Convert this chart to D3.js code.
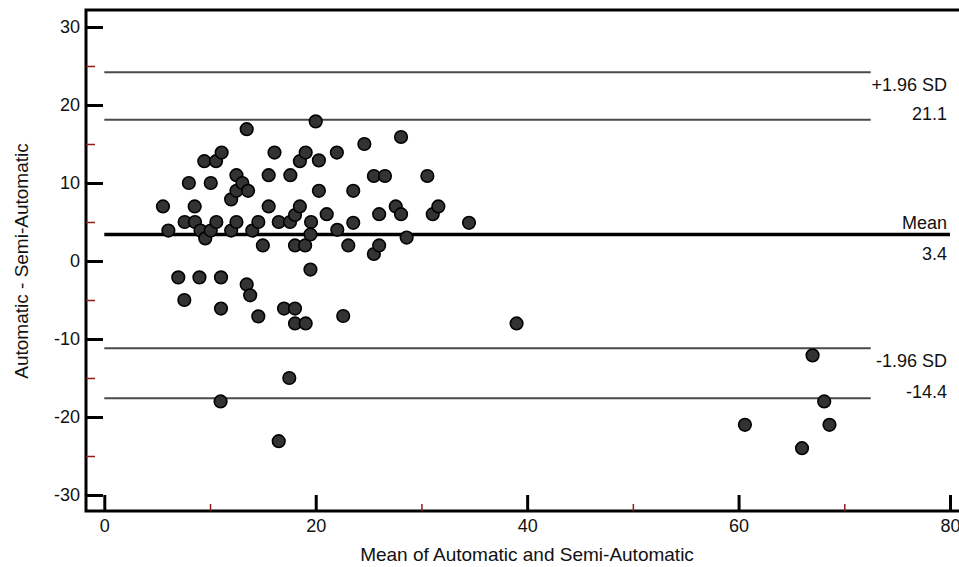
<!DOCTYPE html>
<html>
<head>
<meta charset="utf-8">
<script src="https://cdn.jsdelivr.net/npm/d3@7"></script>
<style>
  body { margin: 0; background: #fff; }
  text { font-family: "Liberation Sans", Arial, sans-serif; fill: #111; }
</style>
</head>
<body>
<div id="chart"></div>
<script>
// mean of the two methods (x) and their difference (y)
var meanVals = [5.55, 6.06, 7.0, 7.57, 7.6, 8.0, 8.55, 8.58, 9.0, 9.1,
  9.55, 9.46, 10.07, 10.07, 10.57, 10.6, 11.04, 11.04, 11.0, 11.1,
  12.0, 12.0, 12.5, 12.5, 12.5, 13.06, 13.47, 13.6, 13.47, 13.8,
  14.0, 14.57, 14.57, 15.0, 15.55, 15.55, 16.1, 16.5, 16.5, 17.0,
  17.5, 17.6, 17.57, 18.04, 18.04, 18.04, 18.04, 18.5, 18.5, 19.05,
  19.0, 19.05, 19.56, 19.5, 19.5, 20.0, 20.3, 20.3, 21.04, 22.0,
  22.04, 22.6, 23.08, 23.55, 23.55, 24.6, 25.5, 25.5, 26.0, 26.0,
  26.55, 27.57, 28.07, 28.07, 28.6, 30.56, 31.07, 31.6, 34.5, 39.0,
  60.6, 66.0, 67.0, 68.1, 68.6];
var diffVals = [7.0, 3.9, -2.1, -5.0, 5.0, 10.0, 7.0, 5.0, -2.1, 3.9,
  2.9, 12.8, 10.0, 3.9, 12.8, 5.0, -2.1, -6.1, -18.0, 13.9,
  7.9, 3.9, 11.0, 9.0, 5.0, 10.0, 16.9, 9.0, -3.0, -4.4,
  3.9, 5.0, -7.1, 2.0, 11.0, 7.0, 13.9, 5.0, -23.1, -6.1,
  -15.0, 11.0, 5.0, 5.9, 2.0, -6.1, -8.0, 12.8, 7.0, 13.9,
  2.0, -8.0, 5.0, 3.4, -1.1, 17.9, 12.9, 9.0, 6.0, 13.9,
  4.0, -7.05, 2.0, 9.0, 4.9, 15.0, 10.9, 0.9, 6.0, 2.0,
  10.9, 7.0, 15.9, 6.0, 3.0, 10.9, 6.0, 7.0, 4.9, -8.0,
  -21.0, -24.0, -12.1, -18.0, -21.0];

// reference lines
var meanDiff = 3.4;
var upperLines = [24.2, 18.1];   // +1.96 SD band
var lowerLines = [-11.2, -17.6]; // -1.96 SD band
var lineEnd = 72.5;
var lineLabels = [
  { name: "+1.96 SD", value: "21.1", lines: upperLines },
  { name: "-1.96 SD", value: "-14.4", lines: lowerLines }
];

var xTicks = [0, 20, 40, 60, 80];
var xMinor = [10, 30, 50, 70];
var yTicks = [-30, -20, -10, 0, 10, 20, 30];
var yMinor = [-25, -15, -5, 5, 15, 25];

var width = 959, height = 567;
var plotLeft = 86, plotTop = 10, plotBottom = 511;

var svg = d3.select("#chart").append("svg")
  .attr("width", width)
  .attr("height", height);

var x = d3.scaleLinear().domain([0, 80]).range([104.3, 950]);
var y = d3.scaleLinear().domain([-30, 30]).range([495, 27]);

// frame (right side runs off the picture)
svg.append("path")
  .attr("d", "M" + (width + 5) + "," + plotTop + "H" + plotLeft + "V" + plotBottom + "H" + (width + 5))
  .attr("fill", "none")
  .attr("stroke", "#000")
  .attr("stroke-width", 3);

// y axis, ticks pointing inward
var yAxis = svg.append("g")
  .attr("transform", "translate(" + plotLeft + ",0)")
  .call(d3.axisLeft(y).tickValues(yTicks).tickSize(-17).tickPadding(6).tickFormat(function(d) { return String(d); }));
yAxis.select(".domain").remove();
yAxis.selectAll("line").attr("stroke", "#000").attr("stroke-width", 3);
yAxis.selectAll("text").style("font-size", "18px").attr("fill", "#111");

var yMin = svg.append("g")
  .attr("transform", "translate(" + plotLeft + ",0)")
  .call(d3.axisLeft(y).tickValues(yMinor).tickSize(-9).tickFormat(""));
yMin.select(".domain").remove();
yMin.selectAll("line").attr("stroke", "#8b1c1c").attr("stroke-width", 1.5);

// x axis
var xAxis = svg.append("g")
  .attr("transform", "translate(0," + plotBottom + ")")
  .call(d3.axisBottom(x).tickValues(xTicks).tickSize(-16).tickPadding(8).tickFormat(function(d) { return String(d); }));
xAxis.select(".domain").remove();
xAxis.selectAll("line").attr("stroke", "#000").attr("stroke-width", 3);
xAxis.selectAll("text").style("font-size", "18px").attr("fill", "#111");

var xMin = svg.append("g")
  .attr("transform", "translate(0," + plotBottom + ")")
  .call(d3.axisBottom(x).tickValues(xMinor).tickSize(-7).tickFormat(""));
xMin.select(".domain").remove();
xMin.selectAll("line").attr("stroke", "#8b1c1c").attr("stroke-width", 1.5);

// limit lines
var limits = upperLines.concat(lowerLines);
svg.selectAll(".limit")
  .data(limits)
  .enter().append("line")
  .attr("class", "limit")
  .attr("x1", x(0)).attr("x2", x(lineEnd))
  .attr("y1", function(d) { return y(d); })
  .attr("y2", function(d) { return y(d); })
  .attr("stroke", "#4a4a4a")
  .attr("stroke-width", 2);

// mean line
svg.append("line")
  .attr("x1", x(0)).attr("x2", x(80))
  .attr("y1", y(meanDiff)).attr("y2", y(meanDiff))
  .attr("stroke", "#000")
  .attr("stroke-width", 3.5);

// points
svg.selectAll(".dot")
  .data(meanVals)
  .enter().append("circle")
  .attr("class", "dot")
  .attr("cx", function(d) { return x(d); })
  .attr("cy", function(d, i) { return y(diffVals[i]); })
  .attr("r", 6.3)
  .attr("fill", "#333")
  .attr("stroke", "#000")
  .attr("stroke-width", 1.6);

// line labels
var labelX = 947;
lineLabels.forEach(function(l) {
  svg.append("text")
    .attr("x", labelX).attr("y", y(l.lines[0]) + 19)
    .attr("text-anchor", "end")
    .style("font-size", "18px")
    .text(l.name);
  svg.append("text")
    .attr("x", labelX).attr("y", y(l.lines[1]))
    .attr("text-anchor", "end")
    .style("font-size", "18px")
    .text(l.value);
});
svg.append("text")
  .attr("x", labelX).attr("y", y(meanDiff) - 5)
  .attr("text-anchor", "end")
  .style("font-size", "18px")
  .text("Mean");
svg.append("text")
  .attr("x", labelX).attr("y", y(meanDiff) + 26)
  .attr("text-anchor", "end")
  .style("font-size", "18px")
  .text(meanDiff.toFixed(1));

// axis titles
svg.append("text")
  .attr("x", 527).attr("y", 561)
  .attr("text-anchor", "middle")
  .style("font-size", "19px")
  .text("Mean of Automatic and Semi-Automatic");

svg.append("text")
  .attr("transform", "translate(28,261) rotate(-90)")
  .attr("text-anchor", "middle")
  .style("font-size", "19px")
  .text("Automatic - Semi-Automatic");
</script>
</body>
</html>
